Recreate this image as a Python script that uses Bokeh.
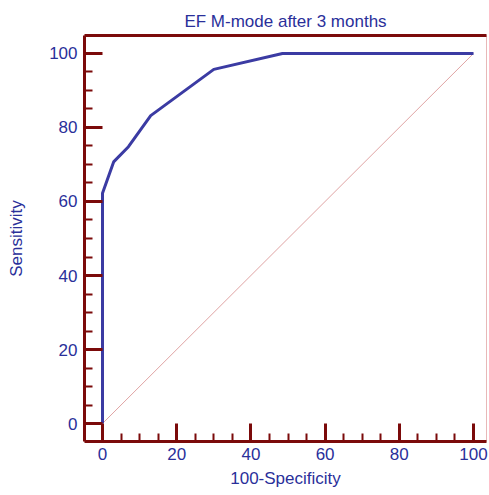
from bokeh.plotting import figure
from bokeh.models import Range1d, FixedTicker, LinearAxis
from bokeh.embed import file_html
from bokeh.resources import INLINE

# ROC curve data (100-Specificity, Sensitivity)
fpr = [0, 0, 3, 7, 13, 30, 48.5, 100]
sens = [0, 62.2, 70.7, 74.8, 83.2, 95.7, 100, 100]
diag_x = [0, 100]
diag_y = [0, 100]
major_ticks = [0, 20, 40, 60, 80, 100]
minor_ticks = [5, 10, 15, 25, 30, 35, 45, 50, 55, 65, 70, 75, 85, 90, 95]

DARK_RED = "#7b0a0a"
BLUE_TEXT = "#2a2f9a"
CURVE = "#3b3ba3"
FONT = "Liberation Sans"

p = figure(width=489, height=495, output_backend="svg", toolbar_location=None,
           x_range=Range1d(-4.85, 103.5), y_range=Range1d(-4.86, 104.86),
           title="EF M-mode after 3 months",
           min_border_left=84, min_border_right=3, min_border_top=35, min_border_bottom=54,
           x_axis_label="100-Specificity", y_axis_label="Sensitivity")

p.title.align = "center"
p.title.text_font = FONT
p.title.text_font_size = "17px"
p.title.text_font_style = "normal"
p.title.text_color = BLUE_TEXT

p.xgrid.visible = False
p.ygrid.visible = False
p.outline_line_color = "#e8b8b8"
p.outline_line_width = 1
p.background_fill_color = "white"
p.border_fill_color = "white"

for ax in (p.xaxis[0], p.yaxis[0]):
    ax.ticker = FixedTicker(ticks=major_ticks, minor_ticks=minor_ticks)
    ax.axis_line_color = DARK_RED
    ax.axis_line_width = 3
    ax.major_tick_line_color = DARK_RED
    ax.major_tick_line_width = 3
    ax.minor_tick_line_color = DARK_RED
    ax.minor_tick_line_width = 2
    ax.major_tick_in = 18
    ax.major_tick_out = 0
    ax.minor_tick_in = 8
    ax.minor_tick_out = 0
    ax.major_label_text_font = FONT
    ax.major_label_text_font_size = "17px"
    ax.major_label_text_color = BLUE_TEXT
    ax.axis_label_text_font = FONT
    ax.axis_label_text_font_size = "17px"
    ax.axis_label_text_font_style = "normal"
    ax.axis_label_text_color = BLUE_TEXT

p.xaxis[0].major_label_standoff = 6
p.xaxis[0].axis_label_standoff = 6
p.yaxis[0].major_label_standoff = 7
p.yaxis[0].axis_label_standoff = 20

top = LinearAxis(ticker=FixedTicker(ticks=[]), major_label_text_font_size="0px",
                 axis_line_color=DARK_RED, axis_line_width=3,
                 major_tick_in=0, major_tick_out=0, minor_tick_in=0, minor_tick_out=0)
p.add_layout(top, "above")

p.line(diag_x, diag_y, line_color="#e0a4a4", line_width=1)
p.line(fpr, sens, line_color=CURVE, line_width=3)

open("out.html", "w").write(file_html(p, INLINE))
